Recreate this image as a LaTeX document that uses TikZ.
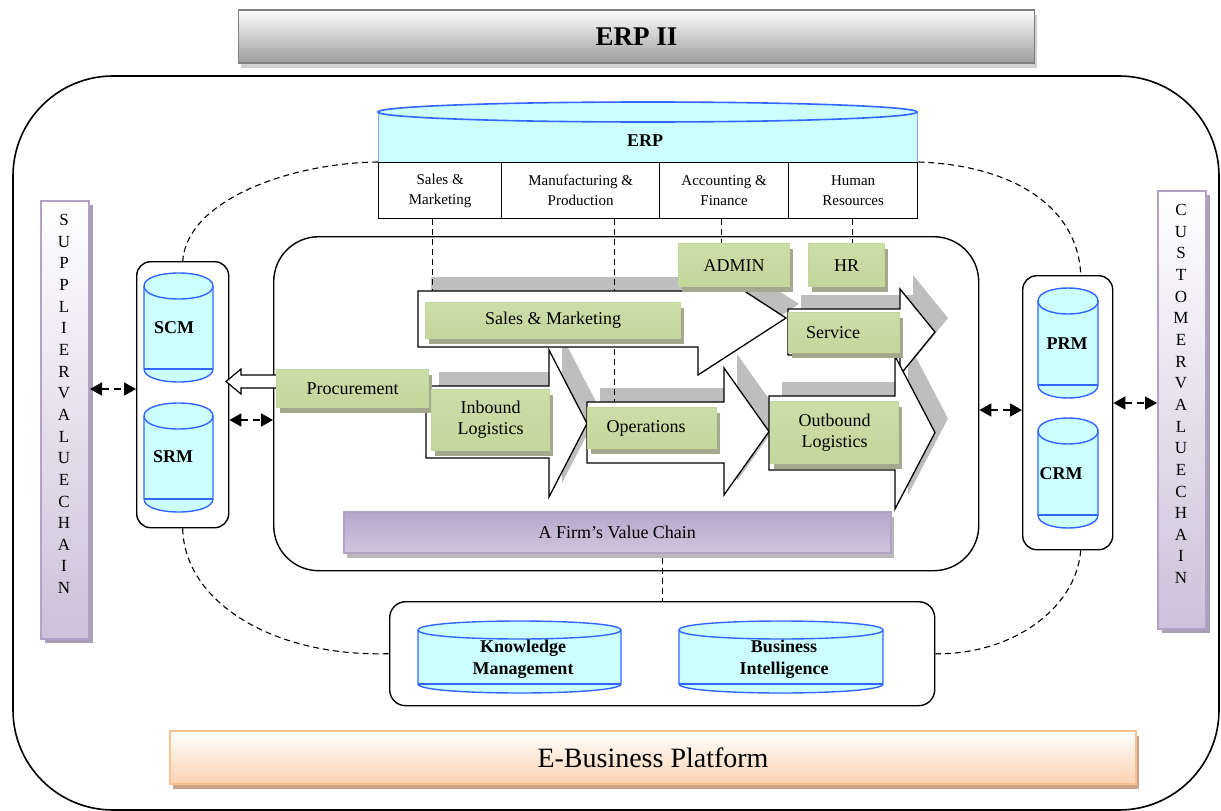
\documentclass[tikz,border=0pt]{standalone}
\usepackage{fontspec}
\setmainfont{Liberation Serif}
\usetikzlibrary{arrows.meta,shadows}
\definecolor{cylfill}{HTML}{CCFFFF}
\definecolor{cylblue}{HTML}{3366FF}
\definecolor{gborder}{HTML}{C3D69B}
\definecolor{gtop}{HTML}{CCDEA8}
\definecolor{gmid}{HTML}{F1F6E8}
\definecolor{gbot}{HTML}{C3D69B}
\definecolor{gshad}{HTML}{A4A88C}
\definecolor{pborder}{HTML}{B3A2C7}
\definecolor{pdark}{HTML}{CCC1DA}
\definecolor{pshad}{HTML}{A89FB5}
\definecolor{chsh}{HTML}{BEBEBE}
\definecolor{oborder}{HTML}{FAC090}
\definecolor{obot}{HTML}{FBD2B0}
\definecolor{oshad}{HTML}{CDA58A}
\definecolor{erpborder}{HTML}{7F7F7F}
\definecolor{erpgray}{HTML}{9C9C9C}
\definecolor{erpshad}{HTML}{D0D0D0}
\definecolor{vtop}{HTML}{B7A7CB}
\definecolor{vmid}{HTML}{E6E1EE}
\definecolor{vbot}{HTML}{CFC5DD}

\newcommand\dbcyl[5]{%
 \pgfmathsetmacro\cyt{#2+#5}%
 \pgfmathsetmacro\cyb{#4-#5}%
 \pgfmathsetmacro\cyk{1.333*#5}%
 \filldraw[cylst] (#1,\cyt) -- (#1,\cyb) .. controls (#1,\cyb+\cyk) and (#3,\cyb+\cyk) .. (#3,\cyb) -- (#3,\cyt) .. controls (#3,\cyt-\cyk) and (#1,\cyt-\cyk) .. (#1,\cyt) -- cycle;
 \draw[cylst, fill=none] (#1,\cyt) .. controls (#1,\cyt+\cyk) and (#3,\cyt+\cyk) .. (#3,\cyt);
 \draw[cylst, fill=none] (#1,\cyb) -- (#3,\cyb);
}
\newcommand\chevshadow[7]{\begin{scope}[shift={(13,-14)}]\fill[chevshade] (#1,#2) -- (#4,#2) -- (#4,#5) -- (#7,{(#5+#6)/2}) -- (#4,#6) -- (#4,#3) -- (#1,#3) -- cycle;\end{scope}}
\newcommand\chevbody[7]{\filldraw[chevbd] (#1,#2) -- (#4,#2) -- (#4,#5) -- (#7,{(#5+#6)/2}) -- (#4,#6) -- (#4,#3) -- (#1,#3) -- cycle;}

\tikzset{
 gbox/.style={draw=gborder, line width=1.3pt, top color=gtop, middle color=gmid, bottom color=gbot, inner sep=0pt, anchor=north west, align=center, font=\fontsize{18}{21}\selectfont, general shadow={fill=gshad, shadow xshift=3pt, shadow yshift=-5pt}},
 chevshade/.style={fill=chsh},
 chevbd/.style={fill=white, draw=black, line width=1.3pt},
 cylst/.style={fill=cylfill, draw=cylblue, line width=1.4pt},
 cyltext/.style={font=\bfseries\fontsize{18}{22}\selectfont, align=center, inner sep=0pt},
 rbox/.style={draw=black, line width=1.4pt, fill=white, anchor=north west, inner sep=0pt},
 dcurve/.style={dash pattern=on 6pt off 4pt, line width=1.1pt},
 vdash/.style={dash pattern=on 6pt off 4pt, line width=1.1pt},
 dblarr/.style={dash pattern=on 7pt off 5pt, line width=1.8pt, {Triangle[length=12pt,width=13pt]}-{Triangle[length=12pt,width=13pt]}},
 vbar/.style={draw=pborder, line width=2pt, top color=white, bottom color=pdark, anchor=north west, inner sep=0pt, general shadow={fill=pshad, shadow xshift=4pt, shadow yshift=-4pt}},
 vlet/.style={font=\fontsize{17}{17}\selectfont, inner sep=0pt},
 tabcell/.style={draw=black, line width=1.3pt, anchor=north west, inner sep=0pt, align=center, font=\fontsize{15}{20}\selectfont},
}

\begin{document}
\begin{tikzpicture}[x=1pt,y=-1pt]
\useasboundingbox (0,0) rectangle (1221,811);

% ERP II title
\node[anchor=north west, minimum width=796pt, minimum height=53pt, draw=erpborder, line width=1.8pt, top color=white, bottom color=erpgray, general shadow={fill=erpshad, shadow xshift=3pt, shadow yshift=-5pt}, inner sep=0pt, font=\bfseries\fontsize{27}{30}\selectfont] (erp2) at (237.5,9) {ERP II};

% outer platform boundary
\draw[line width=1.6pt, rounded corners=100pt] (13,76) rectangle (1219,810);

% ERP cylinder
\fill[cylfill] (378,112) rectangle (917,162);
\draw[cylblue!60, line width=0.8pt] (378,112) -- (378,162) (917,112) -- (917,162);
\filldraw[fill=cylfill, draw=cylblue, line width=1.6pt] (647.5,112) ellipse [x radius=269.5, y radius=10];
\node[font=\bfseries\fontsize{18}{20}\selectfont] (erp) at (645,141) {ERP};

% ERP module table
\node[tabcell, minimum width=123pt, minimum height=56pt] (c1) at (378,162) {Sales \&\\Marketing};
\node[tabcell, minimum width=158pt, minimum height=56pt] (c2) at (501,162) {Manufacturing \&\\Production};
\node[tabcell, minimum width=129pt, minimum height=56pt] (c3) at (659,162) {Accounting \&\\Finance};
\node[tabcell, minimum width=129pt, minimum height=56pt] (c4) at (788,162) {Human\\Resources};

% container boxes
\node[rbox, rounded corners=45pt, minimum width=705pt, minimum height=334pt] (inner) at (273,236) {};
\node[rbox, rounded corners=14pt, minimum width=92pt, minimum height=266pt] (scmbox) at (136,261) {};
\node[rbox, rounded corners=14pt, minimum width=90pt, minimum height=274pt] (prmbox) at (1022,275) {};
\node[rbox, rounded corners=16pt, minimum width=545pt, minimum height=104pt] (kmbox) at (389,601) {};

% cylinders
\dbcyl{144}{273}{213}{382}{13}
\node[cyltext] (scm) at (174,328) {SCM};
\dbcyl{144}{403}{213}{512}{13}
\node[cyltext] (srm) at (173,457) {SRM};
\dbcyl{1038}{288}{1098}{398}{13}
\node[cyltext] (prm) at (1067,344) {PRM};
\dbcyl{1038}{418}{1098}{528}{13}
\node[cyltext] (crm) at (1061,474) {CRM};
\dbcyl{418}{621}{621}{693}{9}
\node[cyltext] (km) at (523,659) {Knowledge\\Management};
\dbcyl{679}{621}{883}{693}{9}
\node[cyltext] (bi) at (784,659) {Business\\Intelligence};

% value chain bars
\node[vbar, minimum width=48pt, minimum height=438pt] (supbar) at (40,200) {};
\node[vbar, minimum width=48pt, minimum height=438pt] (cusbar) at (1157,190) {};
\foreach \ch [count=\i from 0] in {S,U,P,P,L,I,E,R,V,A,L,U,E,C,H,A,I,N}
  \node[vlet] (sl\i) at (64,{220+21.65*\i}) {\ch};
\foreach \ch [count=\i from 0] in {C,U,S,T,O,M,E,R,V,A,L,U,E,C,H,A,I,N}
  \node[vlet] (cl\i) at (1181,{210+21.65*\i}) {\ch};

% chevron shadows
\chevshadow{418}{291}{347}{698}{261}{375}{786}
\chevshadow{788}{309}{355}{900}{289}{375}{935}
\chevshadow{426}{386}{458}{549}{350}{497}{587}
\chevshadow{587}{402}{463}{724}{368}{495}{769}
\chevshadow{769}{396}{470}{895}{356}{509}{935}

% dashed links from ERP modules
\draw[vdash] ([xshift=-7.5pt]c1.south) -- ++(0,82);
\draw[vdash] ([xshift=34pt]c2.south) -- ++(0,187);

% hollow arrow procurement -> SCM
\filldraw[fill=white, draw=black, line width=1.2pt] (283,375) -- (241,375) -- (241,369) -- (226,381.5) -- (241,394) -- (241,388) -- (283,388) -- cycle;

% chevrons
\chevbody{418}{291}{347}{698}{261}{375}{786}
\chevbody{788}{309}{355}{900}{289}{375}{935}
\chevbody{426}{386}{458}{549}{350}{497}{587}
\chevbody{587}{402}{463}{724}{368}{495}{769}
\chevbody{769}{396}{470}{895}{356}{509}{935}

% green activity boxes
\node[gbox, minimum width=152pt, minimum height=38pt] (proc) at (276,369) {Procurement};
\node[gbox, minimum width=118pt, minimum height=61pt] (inb) at (431,389) {Inbound\\Logistics};
\node[gbox, minimum width=255pt, minimum height=36pt] (sm) at (425,302) {Sales \& Marketing};
\node[gbox, minimum width=129pt, minimum height=41pt] (ops) at (587,407) {Operations\hspace*{12pt}};
\node[gbox, minimum width=128pt, minimum height=62pt] (outb) at (770,401) {Outbound\\Logistics};
\node[gbox, minimum width=111pt, minimum height=40pt] (serv) at (788,312) {Service\hspace*{22pt}};
\node[gbox, minimum width=111pt, minimum height=43pt] (admin) at (678,243) {ADMIN};
\node[gbox, minimum width=76pt, minimum height=43pt] (hr) at (808,243) {HR};

\draw[vdash] ([xshift=-3pt]c3.south) -- ([xshift=-3pt]c3.south |- admin.north);
\draw[vdash] ([xshift=-0.5pt]c4.south) -- ([xshift=-0.5pt]c4.south |- hr.north);

% firm's value chain bar
\node[anchor=north west, minimum width=547pt, minimum height=41pt, draw=pborder, line width=1.5pt, top color=vtop, middle color=vmid, bottom color=vbot, general shadow={fill=gray!55, shadow xshift=3pt, shadow yshift=-5pt}, inner sep=0pt, font=\fontsize{18}{20}\selectfont] (vchain) at (343,511) {A Firm's Value Chain};
\draw[vdash] (kmbox.north |- 0,558) -- (kmbox.north);

% e-business platform
\node[anchor=north west, minimum width=966pt, minimum height=53pt, draw=oborder, line width=2pt, top color=white, bottom color=obot, general shadow={fill=oshad, shadow xshift=3pt, shadow yshift=-5pt}, inner sep=0pt, font=\fontsize{28}{30}\selectfont] (ebiz) at (169,730) {E-Business Platform};

% big dashed ring
\draw[dcurve] (c1.north west) .. controls (290,163) and (187,200) .. (scmbox.north);
\draw[dcurve] (scmbox.south) .. controls (184,600) and (270,657) .. (kmbox.west);
\draw[dcurve] (c4.north east) .. controls (1010,165) and (1078,205) .. ([xshift=13pt]prmbox.north);
\draw[dcurve] ([xshift=13pt]prmbox.south) .. controls (1076,610) and (1010,655) .. (kmbox.east);

% double dashed arrows
\coordinate (ya) at (0,389);
\coordinate (yb) at (0,420);
\coordinate (yc) at (0,410);
\coordinate (yd) at (0,403);
\draw[dblarr] (supbar.east |- ya) -- (scmbox.west |- ya);
\draw[dblarr] (scmbox.east |- yb) -- (inner.west |- yb);
\draw[dblarr] (inner.east |- yc) -- (prmbox.west |- yc);
\draw[dblarr] (prmbox.east |- yd) -- (cusbar.west |- yd);
\end{tikzpicture}
\end{document}
